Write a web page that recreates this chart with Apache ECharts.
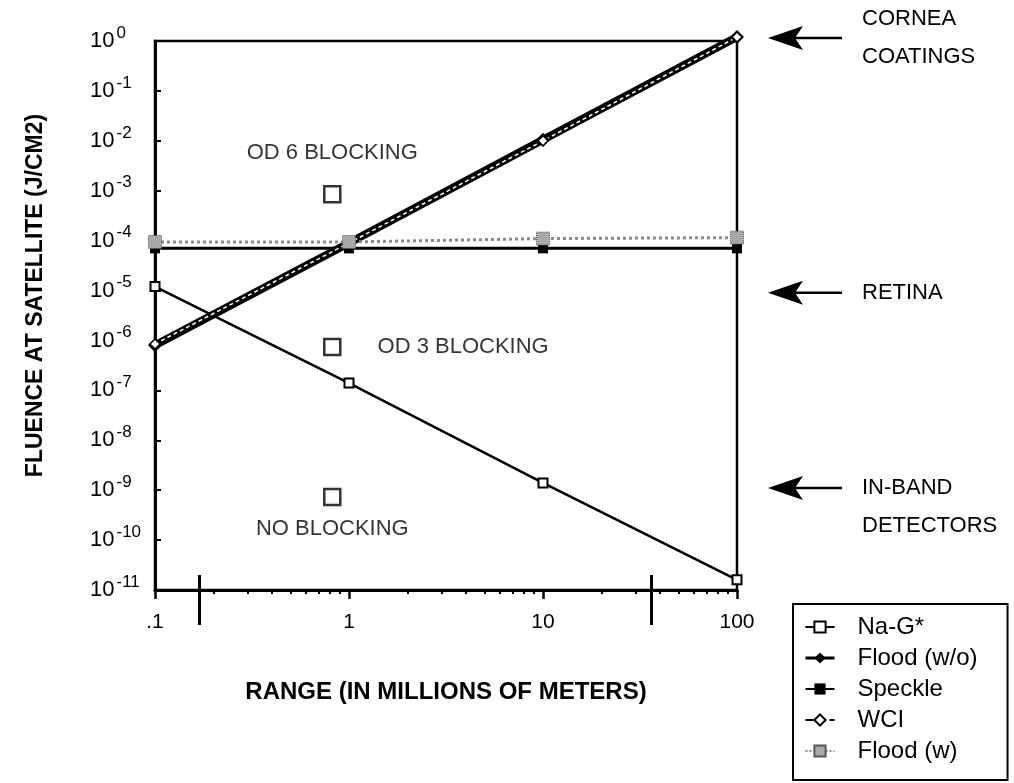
<!DOCTYPE html>
<html>
<head>
<meta charset="utf-8">
<script src="https://cdn.jsdelivr.net/npm/echarts@6/dist/echarts.min.js"></script>
<style>
  html, body { margin: 0; padding: 0; background: #fff; }
  #cht { width: 1014px; height: 783px; }
</style>
</head>
<body>
<div id="cht"></div>
<script>
// range in millions of meters
const ranges = [0.1, 1, 10, 100];

// fluence at satellite (J/cm2)
const naG = [1.2e-5, 1.4e-7, 1.4e-9, 1.6e-11];
const floodWo = [8e-7, 9e-5, 1.05e-2, 1.2];
const speckle = [7e-5, 7e-5, 7e-5, 7e-5];
const wci = [8.5e-7, 9e-5, 1.0e-2, 1.2];
const floodW = [9.4e-5, 9.4e-5, 1.1e-4, 1.15e-4];

// blocking regions (open boxes)
const blockingNames = ['OD 6 BLOCKING', 'OD 3 BLOCKING', 'NO BLOCKING'];
const blockingRange = [0.82, 0.82, 0.82];
const blockingFluence = [8.5e-4, 7.4e-7, 7.3e-10];

// damage thresholds on the right
const thresholdNames = ['CORNEA\nCOATINGS', 'RETINA', 'IN-BAND\nDETECTORS'];
const thresholdLevels = [1.15, 9e-6, 1.1e-9];

// tick labels
const xTickLabels = ['.1', '1', '10', '100'];
const rangeMarks = [0.17, 36];

const cht = echarts.init(document.getElementById('cht'));
window.onresize = () => cht.resize();

const FONT = 'Liberation Sans';
const lg = Math.log10;
const pts = (xs, ys) => xs.map((x, i) => [lg(x), lg(ys[i])]);

// log minor ticks 2..9 in each decade
const minorTicks = [];
for (let d = -1; d < 2; d++) {
  for (let k = 2; k <= 9; k++) minorTicks.push(lg(k * Math.pow(10, d)));
}

const hiddenAxis = {
  type: 'value', min: -1, max: 2, position: 'bottom',
  axisLine: { show: false, onZero: false },
  axisLabel: { show: false },
  splitLine: { show: false },
};

/** @type {import("echarts").EChartsOption} */
const option = {
  backgroundColor: '#fff',
  animation: false,
  textStyle: { fontFamily: FONT, color: '#000' },
  grid: {
    left: 155, right: 277, top: 41, bottom: 193,
    show: true, borderColor: '#000', borderWidth: 2.5,
  },
  legend: {
    orient: 'vertical',
    left: 793, top: 604,
    padding: [11, 30, 17, 11],
    itemGap: 7,
    itemWidth: 29, itemHeight: 14,
    borderColor: '#000', borderWidth: 2,
    textStyle: { fontFamily: FONT, fontSize: 24, color: '#000', padding: [0, 0, 0, 18] },
    data: [
      { name: 'Na-G*' },
      { name: 'Flood (w/o)', lineStyle: { width: 3 } },
      { name: 'Speckle' },
      { name: 'WCI', lineStyle: { color: '#000', width: 2, type: 'dashed' } },
      { name: 'Flood (w)' },
    ],
  },
  xAxis: [
    {
      type: 'value', min: -1, max: 2, interval: 1, position: 'bottom',
      axisLine: { onZero: false, lineStyle: { color: '#000', width: 3 } },
      axisTick: { length: 9, lineStyle: { color: '#000', width: 2.5 } },
      axisLabel: {
        margin: 22, fontSize: 21, color: '#000', fontFamily: FONT,
        formatter: (v) => xTickLabels[Math.round(v) + 1],
      },
      splitLine: { show: false },
      name: 'RANGE (IN MILLIONS OF METERS)',
      nameLocation: 'middle',
      nameGap: 90,
      nameTextStyle: { fontSize: 24, fontWeight: 'bold', color: '#000', fontFamily: FONT },
    },
    Object.assign({}, hiddenAxis, {
      axisTick: { customValues: minorTicks, length: 4, lineStyle: { color: '#000', width: 2 } },
    }),
    Object.assign({}, hiddenAxis, {
      offset: -15,
      axisTick: { customValues: rangeMarks.map(lg), length: 50, lineStyle: { color: '#000', width: 3 } },
    }),
  ],
  yAxis: {
    type: 'value', min: -11, max: 0, interval: 1,
    axisLine: { onZero: false, lineStyle: { color: '#000', width: 3 } },
    axisTick: { inside: true, length: 6, lineStyle: { color: '#000', width: 2 } },
    splitLine: { show: false },
    axisLabel: {
      align: 'left', margin: 65, color: '#000',
      formatter: (v) => '{b|10}{e|' + (v === 0 ? '0' : '-' + (-v)) + '}',
      rich: {
        b: { fontSize: 22, fontFamily: FONT, color: '#000' },
        e: { fontSize: 17, fontFamily: FONT, color: '#000', padding: [0, 0, 16, 2] },
      },
    },
    name: 'FLUENCE AT SATELLITE (J/CM2)',
    nameLocation: 'middle',
    nameGap: 108,
    nameRotate: 90,
    nameTextStyle: { fontSize: 23, fontWeight: 'bold', color: '#000', fontFamily: FONT, padding: [0, 0, 0, 40] },
  },
  series: [
    {
      name: 'Na-G*', type: 'line', clip: false,
      data: pts(ranges, naG),
      symbol: 'rect', symbolSize: 9,
      lineStyle: { color: '#000', width: 2.5 },
      itemStyle: { color: '#fff', borderColor: '#000', borderWidth: 2 },
    },
    {
      name: 'Flood (w/o)', type: 'line', clip: false,
      data: pts(ranges, floodWo),
      symbol: 'diamond', symbolSize: 14,
      lineStyle: { color: '#000', width: 8 },
      itemStyle: { color: '#000' },
    },
    {
      name: 'Speckle', type: 'line', clip: false,
      data: pts(ranges, speckle),
      symbol: 'rect', symbolSize: 10,
      lineStyle: { color: '#000', width: 3 },
      itemStyle: { color: '#000' },
    },
    {
      name: 'WCI', type: 'line', clip: false,
      data: pts(ranges, wci),
      symbol: 'diamond', symbolSize: 10,
      lineStyle: { color: '#fff', width: 1.5, type: [4, 3] },
      itemStyle: { color: '#fff', borderColor: '#000', borderWidth: 1.5 },
    },
    {
      name: 'Flood (w)', type: 'line', clip: false,
      data: pts(ranges, floodW),
      symbol: 'rect', symbolSize: 13,
      lineStyle: { color: '#8a8a8a', width: 3, type: 'dotted' },
      itemStyle: { color: '#a8a8a8', borderColor: '#555', borderWidth: 1, borderType: 'dotted' },
    },
    {
      name: 'blocking', type: 'scatter',
      data: blockingNames.map((n, i) => ({
        name: n,
        value: [lg(blockingRange[i]), lg(blockingFluence[i])],
        label: [
          { position: 'top', distance: 21 },
          { position: 'right', distance: 36 },
          { position: 'bottom', distance: 12 },
        ][i],
      })),
      symbol: 'rect', symbolSize: 16,
      itemStyle: { color: '#fff', borderColor: '#000', borderWidth: 2.5 },
      label: {
        show: true, formatter: '{b}',
        fontSize: 22, fontFamily: FONT, color: '#000',
      },
    },
  ],
};

cht.setOption(option);

// arrows + labels for the damage thresholds
const labelShift = [-19, 0, 0];
const graphics = [];
thresholdNames.forEach((name, i) => {
  const y = cht.convertToPixel({ yAxisIndex: 0 }, lg(thresholdLevels[i]));
  const lines = name.split('\n').length;
  graphics.push(
    { type: 'line', shape: { x1: 792, y1: y, x2: 842, y2: y }, style: { stroke: '#000', lineWidth: 2.5 } },
    { type: 'polygon', shape: { points: [[768, y], [803, y - 12], [795, y], [803, y + 12]] }, style: { fill: '#000' } },
    {
      // first line centred on the arrow
      type: 'text', x: 862, y: y + labelShift[i] + (lines - 1) * 19,
      style: { text: name, font: '22px "Liberation Sans"', fill: '#000', verticalAlign: 'middle', lineHeight: 38 },
    }
  );
});
cht.setOption({ graphic: graphics });
</script>
</body>
</html>
